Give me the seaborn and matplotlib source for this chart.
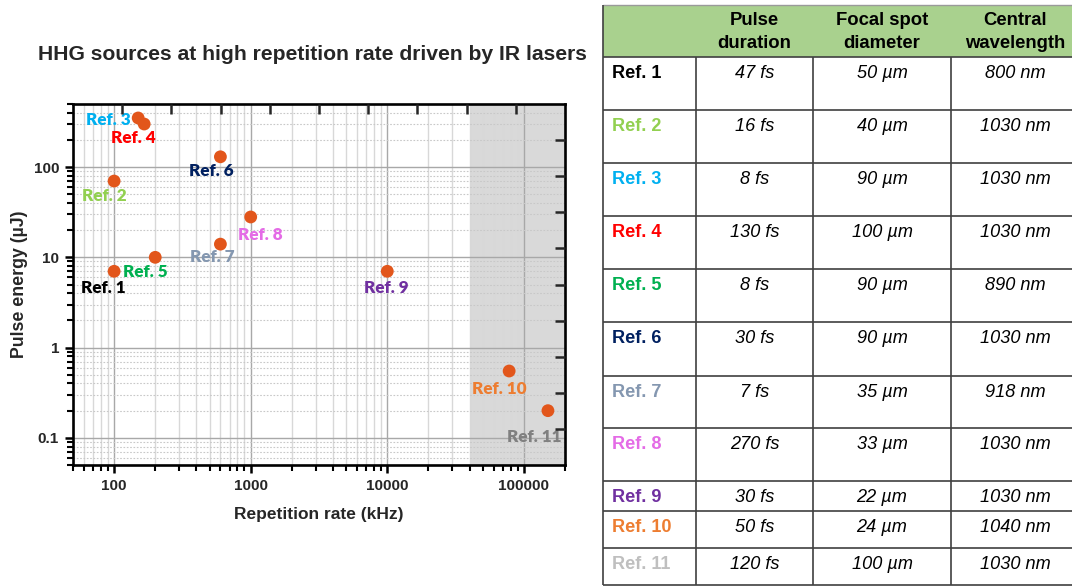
import matplotlib
matplotlib.use("Agg")
import matplotlib.pyplot as plt
import seaborn as sns
import pandas as pd
import numpy as np
from matplotlib.ticker import LogLocator, NullFormatter, FixedLocator, FixedFormatter

# ---- data -------------------------------------------------------------
refs = ["Ref. 1", "Ref. 2", "Ref. 3", "Ref. 4", "Ref. 5", "Ref. 6",
        "Ref. 7", "Ref. 8", "Ref. 9", "Ref. 10", "Ref. 11"]
rep_rate_khz = [100, 100, 150, 166, 200, 600, 600, 1000, 10000, 78000, 150000]
pulse_energy_uj = [7, 70, 350, 300, 10, 130, 14, 28, 7, 0.55, 0.2]

pulse_duration = ["47 fs", "16 fs", "8 fs", "130 fs", "8 fs", "30 fs",
                  "7 fs", "270 fs", "30 fs", "50 fs", "120 fs"]
spot_diameter = ["50 µm", "40 µm", "90 µm", "100 µm", "90 µm", "90 µm",
                 "35 µm", "33 µm", "22 µm", "24 µm", "100 µm"]
wavelength = ["800 nm", "1030 nm", "1030 nm", "1030 nm", "890 nm", "1030 nm",
              "918 nm", "1030 nm", "1030 nm", "1040 nm", "1030 nm"]

header = ["Pulse\nduration", "Focal spot\ndiameter", "Central\nwavelength"]

ref_colors = ["#000000", "#92D050", "#00B0F0", "#FF0000", "#00B050", "#002060",
              "#8497B0", "#E46BE6", "#7030A0", "#ED7D31", "#808080"]
table_ref_colors = ref_colors[:10] + ["#BFBFBF"]

# label offsets from each marker, in pixels (dx right, dy up)
label_offsets = [(-11, -17), (-10, -15), (-30, -2), (-11, -14), (-10, -15),
                 (-9, -14), (-8, -13), (10, -18), (-1, -17), (-10, -18), (-14, -26)]

df = pd.DataFrame({"ref": refs, "rate": rep_rate_khz, "energy": pulse_energy_uj})

# ---- style ------------------------------------------------------------
sns.set_style("ticks")
plt.rcParams["font.family"] = ["Liberation Sans", "DejaVu Sans"]

W, H = 1072, 586
fig = plt.figure(figsize=(W / 100, H / 100), dpi=100)

# plot frame in pixel coordinates
px_l, px_r, px_t, px_b = 73, 565, 104, 465
pos = [px_l / W, 1 - px_b / H, (px_r - px_l) / W, (px_b - px_t) / H]
ax = fig.add_axes(pos)

ax.set_xscale("log")
ax.set_yscale("log")
ax.set_xlim(50, 200000)
ax.set_ylim(0.05, 500)

# high-repetition-rate region
ax.axvspan(40000, 200000, color="#D9D9D9", lw=0, zorder=0.1)

# grid
ax.set_axisbelow(True)
ax.grid(which="major", axis="both", color="#A8A8A8", lw=1.0, zorder=0.5)
ax.grid(which="minor", axis="x", color="#D8D8D8", lw=1.0, ls="-", zorder=0.4)
ax.grid(which="minor", axis="y", color="#C8C8C8", lw=0.8, ls=(0, (1.5, 1.5)), zorder=0.4)

sns.scatterplot(data=df, x="rate", y="energy", ax=ax, color="#E2561B",
                s=85, edgecolor="none", linewidth=0, zorder=3, legend=False)

for name, x, y, c, (dx, dy) in zip(refs, rep_rate_khz, pulse_energy_uj,
                                   ref_colors, label_offsets):
    ax.annotate(name, (x, y), xytext=(dx, dy), textcoords="offset pixels",
                ha="center", va="center", color=c, fontsize=12.3,
                fontweight="heavy", family="Lato", zorder=4)

# ticks
ax.xaxis.set_major_locator(FixedLocator([100, 1000, 10000, 100000]))
ax.xaxis.set_major_formatter(FixedFormatter(["100", "1000", "10000", "100000"]))
ax.xaxis.set_minor_locator(LogLocator(base=10, subs=np.arange(2, 10)))
ax.xaxis.set_minor_formatter(NullFormatter())
ax.yaxis.set_major_locator(FixedLocator([0.1, 1, 10, 100]))
ax.yaxis.set_major_formatter(FixedFormatter(["0.1", "1", "10", "100"]))
ax.yaxis.set_minor_locator(LogLocator(base=10, subs=np.arange(2, 10)))
ax.yaxis.set_minor_formatter(NullFormatter())

ax.tick_params(which="major", direction="out", length=6, width=1.8,
               labelsize=11, color="black", pad=4)
ax.tick_params(which="minor", direction="out", length=4, width=1.5, color="black")
ax.tick_params(top=False, right=False, which="both")
for lbl in ax.get_xticklabels() + ax.get_yticklabels():
    lbl.set_fontweight("bold")

for sp in ax.spines.values():
    sp.set_visible(True)
    sp.set_linewidth(1.9)
    sp.set_color("black")
    sp.set_zorder(5)

ax.set_xlabel("Repetition rate (kHz)", fontsize=12.5, fontweight="bold", labelpad=10)
ax.set_ylabel("Pulse energy (µJ)", fontsize=12.8, fontweight="bold", labelpad=4)

# evenly spaced inner ticks on the top and right edges
ax2 = fig.add_axes(pos)
ax2.set_xlim(0, 10)
ax2.set_ylim(0, 10)
ax2.patch.set_visible(False)
for sp in ax2.spines.values():
    sp.set_visible(False)
ax2.xaxis.tick_top()
ax2.yaxis.tick_right()
ax2.set_xticks(np.arange(1, 10))
ax2.set_yticks(np.arange(1, 10))
ax2.tick_params(direction="in", length=7, width=1.8, labeltop=False,
                labelright=False, labelbottom=False, labelleft=False)

fig.text(312 / W, 1 - 55 / H, "HHG sources at high repetition rate driven by IR lasers",
         ha="center", va="center", fontsize=15.2, fontweight="bold")

# ---- table ------------------------------------------------------------
tax = fig.add_axes([0, 0, 1, 1], zorder=-1)
tax.set_xlim(0, W)
tax.set_ylim(H, 0)
tax.axis("off")

t_left, t_right, t_top = 603, 1082, 5
col_x = [t_left, 696, 813, 951, t_right]
row_y = [56.7, 110, 163.3, 216, 269.3, 322.3, 375.7, 427.7, 481, 511, 548.3, 585]
line_kw = dict(color="#404040", lw=1.2, solid_capstyle="butt")

tax.fill_between([t_left, t_right], t_top, row_y[0], color="#A9D18E", lw=0)
tax.plot([t_left, t_right], [t_top, t_top], color="#9A9A9A", lw=1.0)
for y in row_y:
    tax.plot([t_left, t_right], [y, y], **line_kw)
tax.plot([t_left, t_left], [t_top, row_y[-1]], **line_kw)
for x in col_x[1:4]:
    tax.plot([x, x], [row_y[0], row_y[-1]], **line_kw)

col_centers = [(col_x[i] + col_x[i + 1]) / 2 for i in range(1, 4)]
col_centers[2] = 1015
for cx, h in zip(col_centers, header):
    top_line, bottom_line = h.split("\n")
    tax.text(cx, 20.7, top_line, ha="center", va="center", fontsize=13.3,
             fontweight="bold", color="black")
    tax.text(cx, 43.3, bottom_line, ha="center", va="center", fontsize=13.3,
             fontweight="bold", color="black")

for i, name in enumerate(refs):
    yc = row_y[i] + 16.5
    tax.text(611.5, yc, name, ha="left", va="center", fontsize=13.1,
             fontweight="bold", color=table_ref_colors[i])
    for cx, val in zip(col_centers, (pulse_duration[i], spot_diameter[i], wavelength[i])):
        tax.text(cx, yc, val, ha="center", va="center", fontsize=13.1,
                 style="italic", color="black")

fig.savefig("out.png", dpi=100)
